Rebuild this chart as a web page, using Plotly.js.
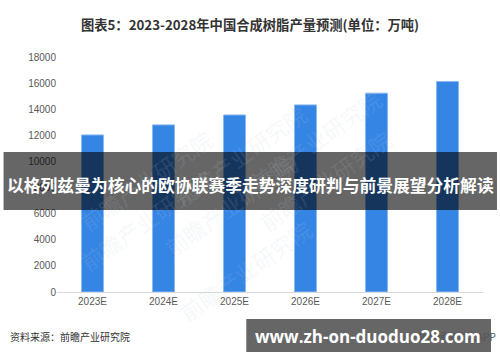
<!DOCTYPE html>
<html>
<head>
<meta charset="utf-8">
<script src="https://cdn.plot.ly/plotly-3.0.1.min.js"></script>
<style>html,body{margin:0;padding:0;background:#fff;}#chart{width:500px;height:362px;}</style>
</head>
<body>
<div id="chart"></div>
<script>
const categories = ["2023E", "2024E", "2025E", "2026E", "2027E", "2028E"];
const production = [12030, 12800, 13560, 14330, 15230, 16120];
const yTicks = [0, 2000, 4000, 6000, 8000, 10000, 12000, 14000, 16000, 18000];

const W = 500, H = 362;
const L = 56.5, R = 17, T = 57, B = 70;
const pw = W - L - R, ph = H - T - B;
function px(x) { return (x - L) / pw; }
function py(y) { return 1 - (y - T) / ph; }

const font = '"Liberation Sans", Arial, "Noto Sans CJK SC", sans-serif';
const cjk = '"Noto Sans CJK SC", "Liberation Sans", sans-serif';

const trace = {
  type: 'bar',
  x: categories,
  y: production,
  marker: { color: '#3585e5', line: { color: '#8ab8f0', width: 1 } },
  hoverinfo: 'none'
};

const watermarks = [
  [70, 120], [240, 95], [390, 80], [70, 280], [230, 265], [400, 240], [170, 330]
].map(p => ({
  text: '前瞻产业研究院', xref: 'paper', yref: 'paper', x: px(p[0]), y: py(p[1]),
  showarrow: false, textangle: -35, font: { family: cjk, size: 22, color: 'rgba(190,200,215,0.14)' }
}));

const layout = {
  width: W, height: H,
  margin: { l: L, r: R, t: T, b: B },
  paper_bgcolor: '#fff', plot_bgcolor: '#fff',
  bargap: 0.69,
  showlegend: false,
  title: {
    text: '<b>图表5：2023-2028年中国合成树脂产量预测(单位：万吨)</b>',
    x: 0.5, xanchor: 'center', y: 1 - 25 / H, yanchor: 'middle',
    font: { family: cjk, size: 13.3, color: '#333' }
  },
  xaxis: {
    type: 'category', showgrid: false, zeroline: false,
    showline: true, linecolor: '#d9d9d9', linewidth: 1,
    ticks: '', tickfont: { family: font, size: 10, color: '#595959' }
  },
  yaxis: {
    range: [0, 18000], tickvals: yTicks, ticktext: yTicks.map(String),
    showgrid: false, zeroline: false, showline: false, ticks: '',
    tickfont: { family: font, size: 10, color: '#595959' }
  },
  shapes: [
    { type: 'rect', xref: 'paper', yref: 'paper', layer: 'above',
      x0: px(3), x1: px(497), y0: py(152), y1: py(210),
      fillcolor: 'rgba(0,0,0,0.6)', line: { width: 0 } },
    { type: 'rect', xref: 'paper', yref: 'paper', layer: 'above',
      x0: px(246), x1: px(491), y0: py(319), y1: py(352),
      fillcolor: 'rgba(0,0,0,0.6)', line: { width: 0 } }
  ],
  annotations: watermarks.concat([
    { text: '资料来源：前瞻产业研究院', xref: 'paper', yref: 'paper', x: px(7), y: py(336),
      xanchor: 'left', yanchor: 'middle', showarrow: false,
      font: { family: cjk, size: 10, color: '#333' } },
    { text: '前瞻经济学人APP', xref: 'paper', yref: 'paper', x: px(498), y: py(336),
      xanchor: 'right', yanchor: 'middle', showarrow: false,
      font: { family: cjk, size: 10, color: '#555' } },
    { text: '<b>以格列兹曼为核心的欧协联赛季走势深度研判与前景展望分析解读</b>', xref: 'paper', yref: 'paper',
      x: px(250), y: py(185), xanchor: 'center', yanchor: 'middle', showarrow: false,
      font: { family: cjk, size: 16.8, color: '#fff' } },
    { text: '<b>www.zh-on-duoduo28.com</b>', xref: 'paper', yref: 'paper',
      x: px(368), y: py(336), xanchor: 'center', yanchor: 'middle', showarrow: false,
      font: { family: '"Open Sans", "DejaVu Sans", sans-serif', size: 17, color: '#fff' } }
  ])
};

Plotly.newPlot('chart', [trace], layout, { staticPlot: true, displayModeBar: false });
</script>
</body>
</html>
